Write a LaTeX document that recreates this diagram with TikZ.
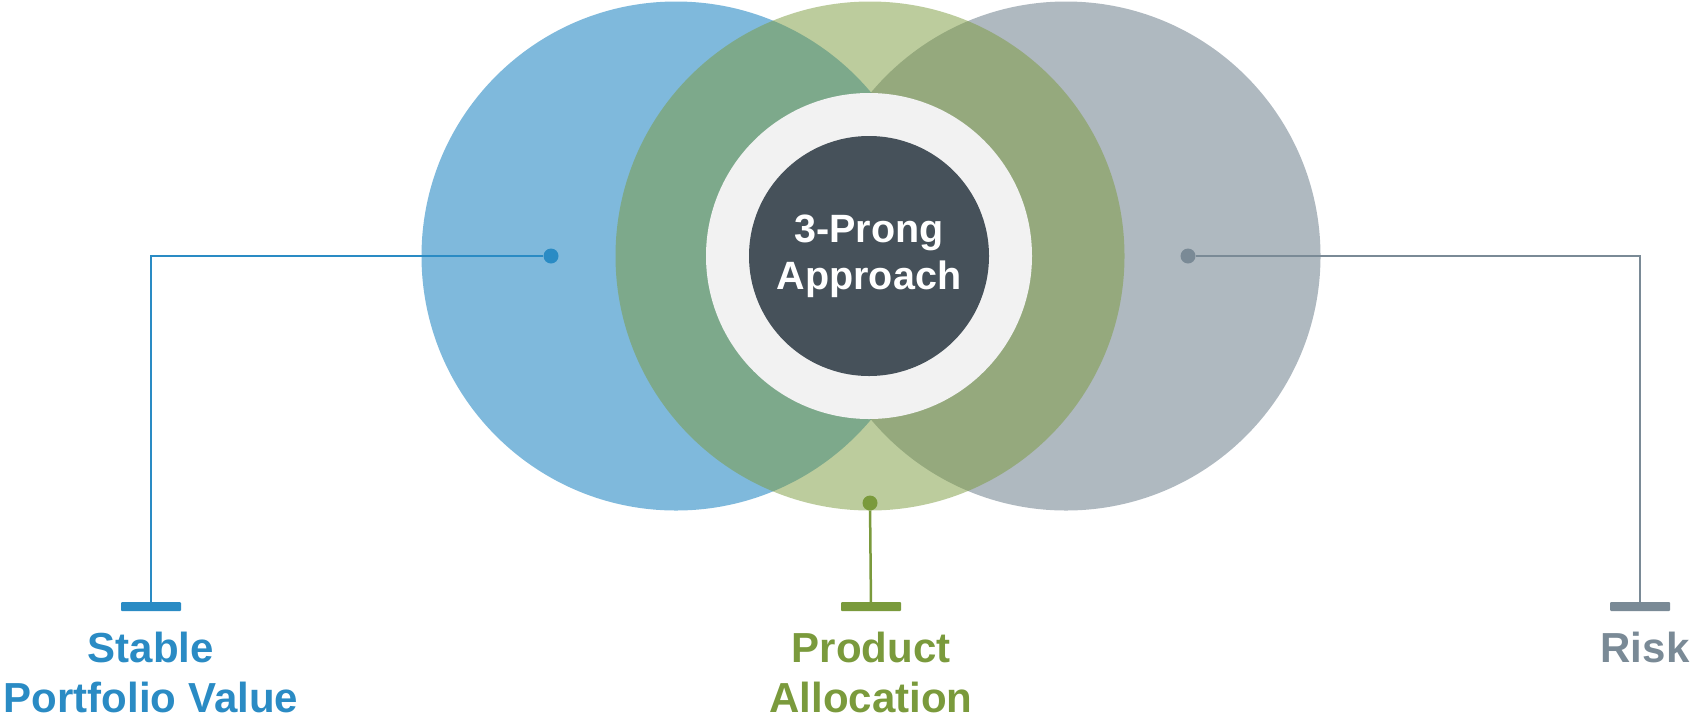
\documentclass[tikz,border=0pt]{standalone}
\usepackage{fontspec}
\setmainfont{Liberation Sans}
\usetikzlibrary{positioning}

\definecolor{stableblue}{HTML}{2A8BC4}
\definecolor{prodgreen}{HTML}{7A9A3C}
\definecolor{riskgrey}{HTML}{7A8A96}
\definecolor{ringgrey}{HTML}{F2F2F2}
\definecolor{coredark}{HTML}{46515A}

\begin{document}
\begin{tikzpicture}[x=1pt, y=-1pt,
    venn/.style={circle, minimum size=509pt, inner sep=0pt},
    pin/.style={circle, fill=#1, minimum size=15pt, inner sep=0pt},
    bar/.style={rectangle, fill=#1, minimum width=60pt, minimum height=9pt, inner sep=0pt, rounded corners=1pt},
    lbl/.style={text=#1, font=\bfseries\fontsize{42}{50}\selectfont, align=center, inner sep=0pt},
    link/.style={draw=#1, line width=2.5pt}]
    \useasboundingbox (0,0) rectangle (1691,721);

    \node[venn, fill=stableblue, fill opacity=0.6] (stablecirc) at (676,256) {};
    \node[venn, fill=riskgrey, fill opacity=0.6] (riskcirc) at (1066,256) {};
    \node[venn, fill=prodgreen, fill opacity=0.5] (prodcirc) at (870,256) {};
    \node[circle, fill=ringgrey, minimum size=326pt, inner sep=0pt] (ring) at (869,256) {};
    \node[circle, fill=coredark, minimum size=240pt, inner sep=0pt, text=white,
          font=\bfseries\fontsize{39.5}{47}\selectfont, align=center] (core) at (ring) {3-Prong\\Approach};

    \node[pin=stableblue] (stabledot) at (551,256) {};
    \node[pin=prodgreen] (proddot) at (870,503) {};
    \node[pin=riskgrey] (riskdot) at (1188,256) {};

    \node[bar=stableblue] (stablebar) at (151,606.5) {};
    \node[bar=prodgreen] (prodbar) at (871,606.5) {};
    \node[bar=riskgrey] (riskbar) at (1640,606.5) {};

    \draw[link=stableblue] (stabledot) -| (stablebar);
    \draw[link=prodgreen] (proddot) -- (prodbar);
    \draw[link=riskgrey] (riskdot) -| (riskbar);

    \node[lbl=stableblue, below=21pt of stablebar] (stable) {Stable\\Portfolio Value};
    \node[lbl=prodgreen, below=21pt of prodbar] (product) {Product\\Allocation};
    \node[lbl=riskgrey, below=21pt of riskbar, xshift=5pt] (risk) {Risk};
\end{tikzpicture}
\end{document}
